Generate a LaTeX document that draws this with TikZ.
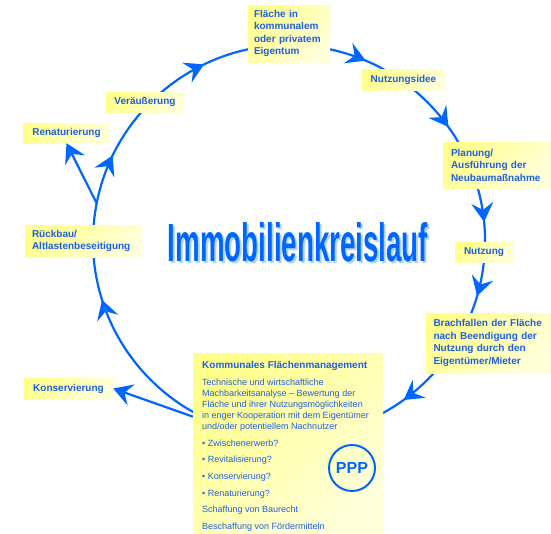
\documentclass[tikz,border=0pt]{standalone}
\usepackage{fontspec}
\setmainfont{Liberation Sans}
\usetikzlibrary{arrows.meta,decorations.markings,calc}
\definecolor{lineblue}{RGB}{0,102,255}
\definecolor{txtblue}{RGB}{30,95,225}
\definecolor{boxY}{RGB}{255,255,140}
\definecolor{boxW}{RGB}{255,255,218}
\definecolor{shadowblue}{RGB}{175,212,255}
\tikzset{
  conn/.style={draw=lineblue, line width=2.2pt},
  tipA/.style={-{Stealth[length=19pt,width=22pt,inset=7pt]}},
  box/.style={shading=axis, top color=boxY, bottom color=boxW, shading angle=45,
    inner ysep=0pt, text=txtblue, font=\bfseries\fontsize{10}{12.5}\selectfont},
  lbox/.style={box, align=left},
  cbox/.style={box, align=center},
  kfmtxt/.style={anchor=base west, inner sep=0pt, text=txtblue, font=\fontsize{9}{11}\selectfont}
}
\def\mytip{\arrow{Stealth[length=19pt,width=22pt,inset=7pt]}}
\begin{document}
\begin{tikzpicture}[x=1pt,y=-1pt]
\useasboundingbox (0,0) rectangle (551,533);
\coordinate (c) at (289,241);
\coordinate (j) at ($(c)+(191.1:196)$);
% cycle
\draw[conn,
  decoration={markings,
    mark=at position 0.0411 with {\mytip},
    mark=at position 0.1478 with {\mytip},
    mark=at position 0.2831 with {\mytip},
    mark=at position 0.3703 with {\mytip},
    mark=at position 0.4536 with {\mytip},
    mark=at position 0.5144 with {\mytip},
    mark=at position 0.6197 with {\mytip},
    mark=at position 0.9206 with {\mytip}},
  postaction={decorate}]
  (j) arc[start angle=191.1, end angle=551.1, radius=196];

% boxes
\node[lbox, text width=70pt, inner xsep=6pt, minimum height=57pt] (flaeche) at (289,33.5)
  {Fläche in\\kommunalem\\oder privatem\\Eigentum};
\node[cbox, text width=71pt, inner xsep=6pt, minimum height=21pt] (nidee) at (403.5,79.5) {Nutzungsidee};
\node[lbox, text width=92pt, inner xsep=8pt, minimum height=46pt] (planung) at (497,165)
  {Planung/\\Ausführung der\\Neubaumaßnahme};
\node[cbox, text width=50pt, inner xsep=4pt, minimum height=20pt] (nutzung) at (484,252) {Nutzung};
\node[lbox, text width=110pt, inner xsep=7.5pt, minimum height=60pt] (brach) at (488.5,343)
  {Brachfallen der Fläche\\nach Beendigung der\\Nutzung durch den\\Eigentümer/Mieter};
\node[cbox, text width=81pt, inner xsep=4pt, minimum height=21pt] (kons) at (68.5,388.5) {Konservierung};
\node[lbox, text width=103pt, inner xsep=7pt, minimum height=32pt] (rueck) at (83.5,241)
  {Rückbau/\\Altlastenbeseitigung};
\node[cbox, text width=79pt, inner xsep=4pt, minimum height=20pt] (renat) at (66.5,133) {Renaturierung};
\node[cbox, text width=70pt, inner xsep=4pt, minimum height=20pt] (veraeu) at (145,102) {Veräußerung};

% side arrows
\draw[conn, tipA] (j) -- (renat.south);

% KFM box
\node[box, minimum width=190pt, minimum height=182pt, inner sep=0pt] (kfm) at (288,444) {};
\draw[conn, tipA] ($(kfm.north west)!0.35!(kfm.south west)$) -- (kons.east);

\node[kfmtxt, font=\bfseries\fontsize{10}{12}\selectfont] (kt) at (202,368.5) {Kommunales Flächenmanagement};
\node[kfmtxt] (k1) at (202,385.5) {Technische und wirtschaftliche};
\node[kfmtxt] (k2) at (202,396.6) {Machbarkeitsanalyse – Bewertung der};
\node[kfmtxt] (k3) at (202,407.7) {Fläche und ihrer Nutzungsmöglichkeiten};
\node[kfmtxt] (k4) at (202,418.8) {in enger Kooperation mit dem Eigentümer};
\node[kfmtxt] (k5) at (202,429.9) {und/oder potentiellem Nachnutzer};
\node[kfmtxt] (b1) at (202,446) {\textbullet\ Zwischenerwerb?};
\node[kfmtxt] (b2) at (202,462.8) {\textbullet\ Revitalisierung?};
\node[kfmtxt] (b3) at (202,479.8) {\textbullet\ Konservierung?};
\node[kfmtxt] (b4) at (202,496.3) {\textbullet\ Renaturierung?};
\node[kfmtxt] (s1) at (202,512.8) {Schaffung von Baurecht};
\node[kfmtxt] (s2) at (202,529.3) {Beschaffung von Fördermitteln};
\node[circle, draw=lineblue, line width=2pt, minimum size=46pt, inner sep=0pt,
  text=lineblue, font=\bfseries\fontsize{16}{16}\selectfont] (ppp) at (352,468) {PPP};

% title
\node[inner sep=0pt, text=shadowblue] (tshadow) at (300,244.5)
  {\resizebox{260pt}{39pt}{\bfseries Immobilienkreislauf}};
\node[inner sep=0pt, text=lineblue] (title) at (298,242.5)
  {\resizebox{260pt}{39pt}{\bfseries Immobilienkreislauf}};
\end{tikzpicture}
\end{document}
